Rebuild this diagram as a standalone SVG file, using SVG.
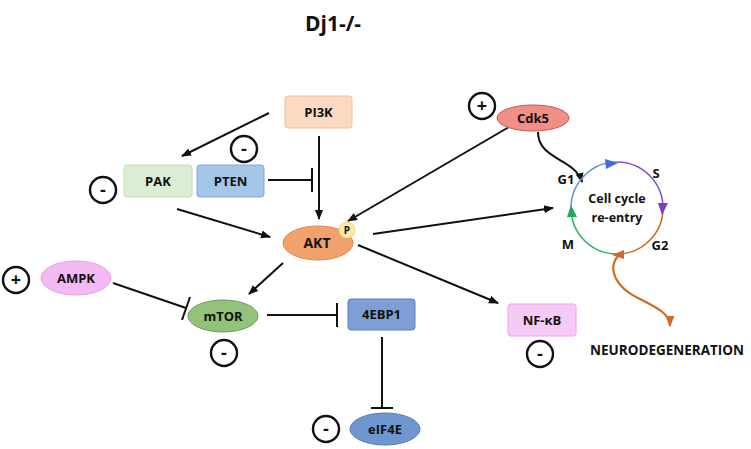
<svg xmlns="http://www.w3.org/2000/svg" width="751" height="449" viewBox="0 0 751 449">
<style>
text{font-family:"Open Sans","Liberation Sans",sans-serif;font-weight:bold;fill:#111;}
.lbl{font-size:13px;text-anchor:middle;}
.ln{stroke:#111;stroke-width:2;fill:none;}
.sign{fill:#fff;stroke:#111;stroke-width:2.4;}
.signt{font-size:18px;text-anchor:middle;}
</style>
<defs>
<marker id="arr" viewBox="0 0 10 10" refX="9" refY="5" markerWidth="5" markerHeight="5" orient="auto" markerUnits="strokeWidth"><path d="M0,1 L10,5 L0,9 z" fill="#111"/></marker>
<marker id="arrO" viewBox="0 0 10 10" refX="9" refY="5" markerWidth="5" markerHeight="5" orient="auto" markerUnits="strokeWidth"><path d="M0,1 L10,5 L0,9 z" fill="#d2691e"/></marker>
</defs>
<rect width="751" height="449" fill="#fff"/>
<text x="333" y="31" style="font-size:21px;text-anchor:middle">Dj1-/-</text>

<g id="connectors">
<line class="ln" x1="269" y1="113" x2="182" y2="156" marker-end="url(#arr)"/>
<line class="ln" x1="319" y1="136" x2="319" y2="219" marker-end="url(#arr)"/>
<line class="ln" x1="268" y1="180" x2="312" y2="180"/><line class="ln" x1="312" y1="168" x2="312" y2="192"/>
<line class="ln" x1="177" y1="209" x2="270" y2="237" marker-end="url(#arr)"/>
<line class="ln" x1="509" y1="127" x2="348" y2="221" marker-end="url(#arr)"/>
<path class="ln" d="M538,132 C538,160 575,158 582,182" marker-end="url(#arr)"/>
<line class="ln" x1="373" y1="234" x2="553" y2="208" marker-end="url(#arr)"/>
<line class="ln" x1="358" y1="245" x2="498" y2="303" marker-end="url(#arr)"/>
<line class="ln" x1="283" y1="263" x2="249" y2="294" marker-end="url(#arr)"/>
<line class="ln" x1="113" y1="283" x2="186" y2="308"/><line class="ln" x1="190" y1="297" x2="182" y2="320"/>
<line class="ln" x1="267" y1="315" x2="337" y2="315"/><line class="ln" x1="337" y1="303" x2="337" y2="327"/>
<line class="ln" x1="382" y1="337" x2="382" y2="408"/><line class="ln" x1="371" y1="408" x2="393" y2="408"/>
<path d="M621,254 C608,262 610,284 638,298 C658,308 670,314 670,326" fill="none" stroke="#d2691e" stroke-width="2.2" marker-end="url(#arrO)"/>
</g>

<g id="cellcycle">
<path d="M571,208 A46,46 0 0 1 617,162" fill="none" stroke="#6d8fd6" stroke-width="1.6"/>
<path d="M617,162 A46,46 0 0 1 663,208" fill="none" stroke="#8a4fc9" stroke-width="1.6"/>
<path d="M663,208 A46,46 0 0 1 617,254" fill="none" stroke="#d2691e" stroke-width="1.6"/>
<path d="M617,254 A46,46 0 0 1 571,208" fill="none" stroke="#2fb56a" stroke-width="1.6"/>
<path d="M605,159 L618,163 L606,169 z" fill="#3d6fd0"/>
<path d="M658,203 L668,203 L662,215 z" fill="#7b3fc0"/>
<path d="M624,250 L624,259 L612,255 z" fill="#d2691e"/>
<path d="M567,217 L577,217 L571,205 z" fill="#22a85a"/>
<text class="lbl" x="617" y="203" style="font-size:12.5px">Cell cycle</text>
<text class="lbl" x="617" y="222" style="font-size:12.5px">re-entry</text>
<text class="lbl" x="566" y="184">G1</text>
<text class="lbl" x="656" y="178">S</text>
<text class="lbl" x="568" y="249">M</text>
<text class="lbl" x="660" y="250">G2</text>
</g>

<g id="PI3K"><rect x="285" y="96" width="67" height="32" rx="3" fill="#fbd9c3" stroke="#f2bc9c"/><text class="lbl" x="318.5" y="117">PI3K</text></g>
<g id="PAK"><rect x="124" y="165" width="68" height="32" rx="3" fill="#dbeed3" stroke="#c3deb6"/><text class="lbl" x="158" y="186">PAK</text></g>
<g id="PTEN"><rect x="197" y="165" width="67" height="32" rx="3" fill="#a3c6e9" stroke="#7fa9d4"/><text class="lbl" x="230.5" y="186">PTEN</text></g>
<g id="AKT"><ellipse cx="318" cy="243" rx="35" ry="17" fill="#f0a16c" stroke="#e08950"/><text class="lbl" x="317" y="248" style="font-size:14px">AKT</text>
<circle cx="347" cy="230" r="8" fill="#fde9a8" stroke="#f3d47c"/><text class="lbl" x="347" y="234" style="font-size:10px">P</text></g>
<g id="Cdk5"><ellipse cx="533" cy="118" rx="36" ry="13" fill="#ef8f86" stroke="#c9574f"/><text class="lbl" x="533" y="123">Cdk5</text></g>
<g id="AMPK"><ellipse cx="76" cy="278" rx="35" ry="17" fill="#f2b9f2" stroke="#e3a2e3"/><text class="lbl" x="76" y="283">AMPK</text></g>
<g id="mTOR"><ellipse cx="223" cy="316" rx="35" ry="16" fill="#93c27b" stroke="#6c9c55"/><text class="lbl" x="223" y="321">mTOR</text></g>
<g id="4EBP1"><rect x="348" y="299" width="67" height="31" rx="3" fill="#7d9fd6" stroke="#5d80c0"/><text class="lbl" x="381.5" y="319">4EBP1</text></g>
<g id="NFkB"><rect x="508" y="304" width="68" height="32" rx="3" fill="#f7c9f5" stroke="#e6a6e6"/><text class="lbl" x="542" y="325">NF-κB</text></g>
<g id="eIF4E"><ellipse cx="385" cy="429" rx="35" ry="16" fill="#7096d0" stroke="#5279ba"/><text class="lbl" x="385" y="434">eIF4E</text></g>
<g id="NEURODEGENERATION"><text x="590" y="355" style="font-size:13.5px">NEURODEGENERATION</text></g>

<g id="signs">
<circle class="sign" cx="244" cy="149" r="13"/><text class="signt" x="244" y="155">-</text>
<circle class="sign" cx="103" cy="190" r="13"/><text class="signt" x="103" y="196">-</text>
<circle class="sign" cx="482" cy="106" r="13"/><text class="signt" x="482" y="112">+</text>
<circle class="sign" cx="16" cy="280" r="13"/><text class="signt" x="16" y="286">+</text>
<circle class="sign" cx="224" cy="353" r="13"/><text class="signt" x="224" y="359">-</text>
<circle class="sign" cx="540" cy="354" r="13"/><text class="signt" x="540" y="360">-</text>
<circle class="sign" cx="326" cy="429" r="13"/><text class="signt" x="326" y="435">-</text>
</g>
</svg>
